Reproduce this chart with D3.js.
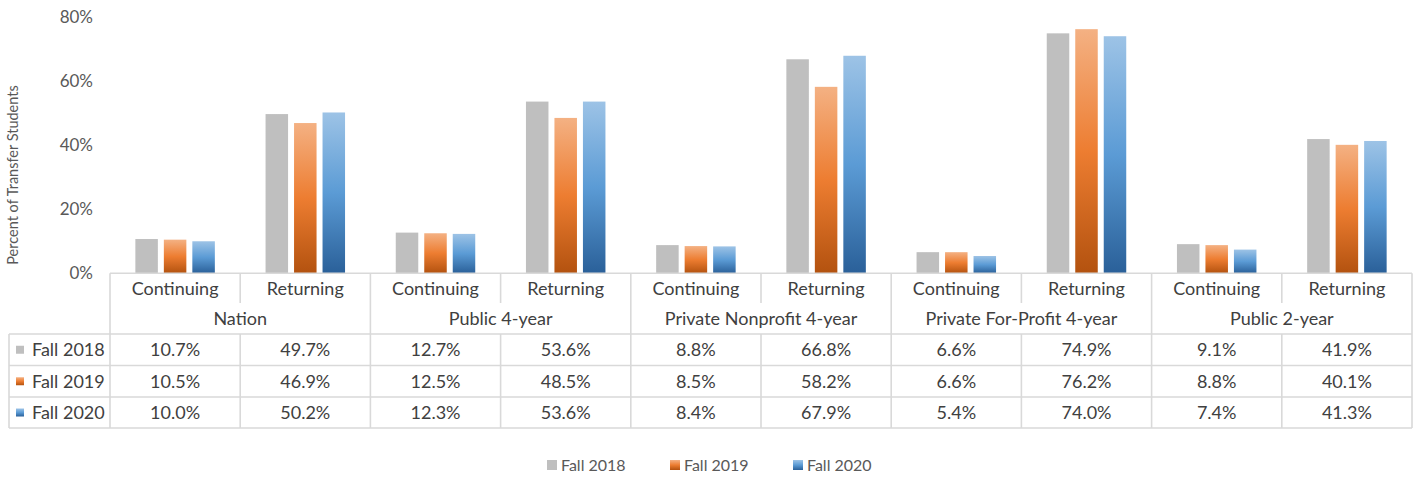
<!DOCTYPE html>
<html>
<head>
<meta charset="utf-8">
<script src="https://cdn.jsdelivr.net/npm/d3@7"></script>
<style>
  body { margin: 0; background: #fff; }
  svg text { font-family: Lato, "Open Sans", sans-serif; }
</style>
</head>
<body>
<svg id="chart" width="1418" height="479"></svg>
<script>
// ---- data ----
const groups = ['Nation', 'Public 4-year', 'Private Nonprofit 4-year', 'Private For-Profit 4-year', 'Public 2-year'];
const types = ['Continuing', 'Returning'];
const seriesNames = ['Fall 2018', 'Fall 2019', 'Fall 2020'];
const fall2018 = [10.7, 49.7, 12.7, 53.6, 8.8, 66.8, 6.6, 74.9, 9.1, 41.9];
const fall2019 = [10.5, 46.9, 12.5, 48.5, 8.5, 58.2, 6.6, 76.2, 8.8, 40.1];
const fall2020 = [10.0, 50.2, 12.3, 53.6, 8.4, 67.9, 5.4, 74.0, 7.4, 41.3];
const yTicks = [0, 20, 40, 60, 80];

const seriesVals = [fall2018, fall2019, fall2020];
const cats = groups.flatMap((g, gi) => types.map((t, ti) => ({ g, gi, t, i: gi * 2 + ti })));

const svg = d3.select('#chart');
const left = 110, right = 1412, y0 = 273.3, y80 = 17;
const lineC = '#d9d9d9', txt = '#404040';

// gradients (Excel-style: light top, base middle, dark bottom)
const defs = svg.append('defs');
const grads = [
  { id: 'g0', stops: ['#bfbfbf', '#bfbfbf', '#bfbfbf'] },
  { id: 'g1', stops: ['#f4b183', '#ed7d31', '#b3520f'] },
  { id: 'g2', stops: ['#9dc3e6', '#5b9bd5', '#2a6099'] },
];
grads.forEach(gd => {
  const lg = defs.append('linearGradient').attr('id', gd.id).attr('x1', 0).attr('y1', 0).attr('x2', 0).attr('y2', 1);
  gd.stops.forEach((c, k) => lg.append('stop').attr('offset', k / 2).attr('stop-color', c));
});

const x = d3.scaleBand(d3.range(cats.length), [left, right]);
const xs = d3.scaleBand(d3.range(3), [0, x.bandwidth()]).paddingInner(0.21).paddingOuter(0.89);
const y = d3.scaleLinear([0, 80], [y0, y80]);

// y axis ticks (no gridlines)
svg.append('g').selectAll('text').data(yTicks).join('text')
  .attr('x', 93).attr('y', d => y(d)).attr('dy', '0.35em').attr('text-anchor', 'end')
  .attr('fill', '#595959').style('font-size', '17px').text(d => d + '%');

svg.append('text').attr('transform', `translate(18,175) rotate(-90)`)
  .attr('text-anchor', 'middle').attr('fill', '#595959').style('font-size', '14.5px')
  .text('Percent of Transfer Students');

// bars
seriesVals.forEach((vals, s) => {
  svg.append('g').selectAll('rect').data(cats).join('rect')
    .attr('x', c => x(c.i) + xs(s)).attr('width', xs.bandwidth())
    .attr('y', c => y(vals[c.i])).attr('height', c => y0 - y(vals[c.i]))
    .attr('fill', `url(#g${s})`);
});

// ---- data table ----
const rowTop = [y0, 303.5, 334, 365.5, 397, 428];
const t = svg.append('g');
const L = (x1, y1, x2, y2) => t.append('line').attr('x1', x1).attr('y1', y1).attr('x2', x2).attr('y2', y2)
  .attr('stroke', lineC).attr('stroke-width', 1.6);

// axis line
L(left, y0, right, y0);
// horizontal table lines
[334, 365.5, 397, 428].forEach(yy => L(9, yy, right, yy));
// outer left line for series rows
L(9, 334, 9, 428);
// group separators
d3.range(groups.length + 1).forEach(gi => {
  const xx = gi < groups.length ? x(gi * 2) : right;
  L(xx, y0, xx, 428);
});
// category dividers inside groups
groups.forEach((g, gi) => {
  const xx = x(gi * 2 + 1);
  L(xx, y0, xx, 303);
  L(xx, 334, xx, 428);
});

const fs = '18px';
// category labels
t.selectAll('text.cat').data(cats).join('text').attr('class', 'cat')
  .attr('x', c => x(c.i) + x.bandwidth() / 2).attr('y', 289).attr('dy', '0.35em')
  .attr('text-anchor', 'middle').attr('fill', txt).style('font-size', fs).text(c => c.t);
// group labels
t.selectAll('text.grp').data(groups).join('text').attr('class', 'grp')
  .attr('x', (g, gi) => x(gi * 2) + x.bandwidth()).attr('y', 319).attr('dy', '0.35em')
  .attr('text-anchor', 'middle').attr('fill', txt).style('font-size', fs).text(g => g);

// series rows
seriesNames.forEach((name, s) => {
  const cy = (rowTop[s + 2] + rowTop[s + 3]) / 2;
  t.append('rect').attr('x', 16).attr('y', cy - 4).attr('width', 8).attr('height', 8).attr('fill', `url(#g${s})`);
  t.append('text').attr('x', 32).attr('y', cy).attr('dy', '0.35em').attr('fill', txt)
    .style('font-size', fs).text(name);
  t.append('g').selectAll('text').data(cats).join('text')
    .attr('x', c => x(c.i) + x.bandwidth() / 2).attr('y', cy).attr('dy', '0.35em')
    .attr('text-anchor', 'middle').attr('fill', txt).style('font-size', fs)
    .text(c => seriesVals[s][c.i].toFixed(1) + '%');
});

// legend
const legX = [547, 670, 793];
const lg = svg.append('g');
seriesNames.forEach((name, s) => {
  lg.append('rect').attr('x', legX[s]).attr('y', 460).attr('width', 10).attr('height', 10).attr('fill', `url(#g${s})`);
  lg.append('text').attr('x', legX[s] + 14).attr('y', 465).attr('dy', '0.35em').attr('fill', '#595959')
    .style('font-size', '16px').text(name);
});
</script>
</body>
</html>
